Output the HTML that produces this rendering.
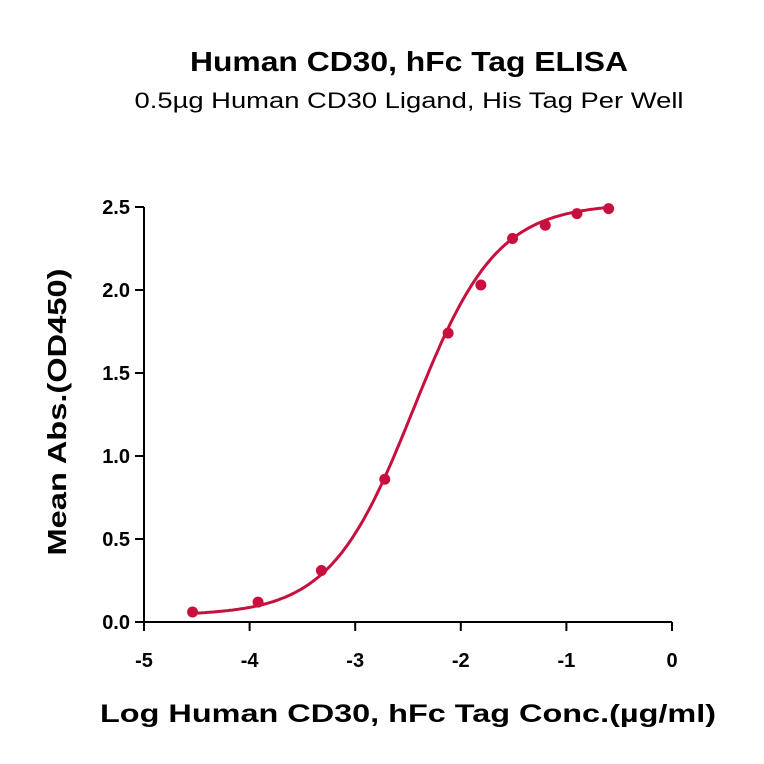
<!DOCTYPE html>
<html><head><meta charset="utf-8"><style>
html,body{margin:0;padding:0;background:#fff;}
svg{display:block;font-family:"Liberation Sans",sans-serif;}
</style></head><body>
<svg id="chart" width="764" height="764">
<text x="409" y="71" text-anchor="middle" font-size="28" font-weight="bold" textLength="438" lengthAdjust="spacingAndGlyphs">Human CD30, hFc Tag ELISA</text>
<text x="409" y="108" text-anchor="middle" font-size="22" textLength="549" lengthAdjust="spacingAndGlyphs">0.5µg Human CD30 Ligand, His Tag Per Well</text>
<text x="408" y="722" text-anchor="middle" font-size="25" font-weight="bold" textLength="616" lengthAdjust="spacingAndGlyphs">Log Human CD30, hFc Tag Conc.(µg/ml)</text>
<text transform="translate(66,412) rotate(-90)" text-anchor="middle" font-size="26" font-weight="bold" textLength="287" lengthAdjust="spacingAndGlyphs">Mean Abs.(OD450)</text>
<g id="axes"></g><g id="marks"></g>
</svg>
<script>
const xTicks=[-5,-4,-3,-2,-1,0];
const xTickLabels=["-5","-4","-3","-2","-1","0"];
const yTicks=[0,0.5,1,1.5,2,2.5];
const yTickLabels=["0.0","0.5","1.0","1.5","2.0","2.5"];
const logConc=[-4.54,-3.92,-3.32,-2.72,-2.12,-1.81,-1.51,-1.20,-0.90,-0.60];
const od450=[0.06,0.12,0.31,0.86,1.74,2.03,2.31,2.39,2.46,2.49];
const fitBottom=0.04, fitTop=2.52, fitLogEC50=-2.45, fitHill=1.1;
const X0=144,X1=672,Y0=622,Y1=207;
const sx=v=>X0+(v-(-5))/5*(X1-X0);
const sy=v=>Y0-v/2.5*(Y0-Y1);
const NS="http://www.w3.org/2000/svg";
const ax=document.getElementById('axes'),mk=document.getElementById('marks');
function el(t,a,p){const e=document.createElementNS(NS,t);for(const k in a)e.setAttribute(k,a[k]);p.appendChild(e);return e;}
const xl=el('line',{x1:X0,y1:Y0,x2:X1,y2:Y0,stroke:'#000','stroke-width':2},ax);


const yl=el('line',{x1:X0,y1:Y1,x2:X0,y2:Y0,stroke:'#000','stroke-width':2},ax);


xTicks.forEach((v,i)=>{
 const t=el('line',{x1:sx(v),y1:Y0,x2:sx(v),y2:Y0+9,stroke:'#000','stroke-width':2},ax);
 
 
 const l=el('text',{x:sx(v),y:Y0+45,'text-anchor':'middle','font-size':20,'font-weight':'bold'},ax);
 l.textContent=xTickLabels[i];
 
 
});
yTicks.forEach((v,i)=>{
 const t=el('line',{x1:X0-9,y1:sy(v),x2:X0,y2:sy(v),stroke:'#000','stroke-width':2},ax);
 
 
 const l=el('text',{x:X0-14,y:sy(v)+7,'text-anchor':'end','font-size':20,'font-weight':'bold'},ax);
 l.textContent=yTickLabels[i];
 
 
});
let d='';
const xa=logConc[0],xb=logConc[logConc.length-1];
for(let i=0;i<=200;i++){const x=xa+(xb-xa)*i/200;const y=fitBottom+(fitTop-fitBottom)/(1+Math.pow(10,(fitLogEC50-x)*fitHill));d+=(i?'L':'M')+sx(x).toFixed(1)+','+sy(y).toFixed(1);}
const c=el('path',{d:d,fill:'none',stroke:'#c8103e','stroke-width':3},mk);


logConc.forEach((v,i)=>{
 const p=el('circle',{cx:sx(v),cy:sy(od450[i]),r:5.5,fill:'#c8103e'},mk);
 
 
});
</script>
</body></html>
